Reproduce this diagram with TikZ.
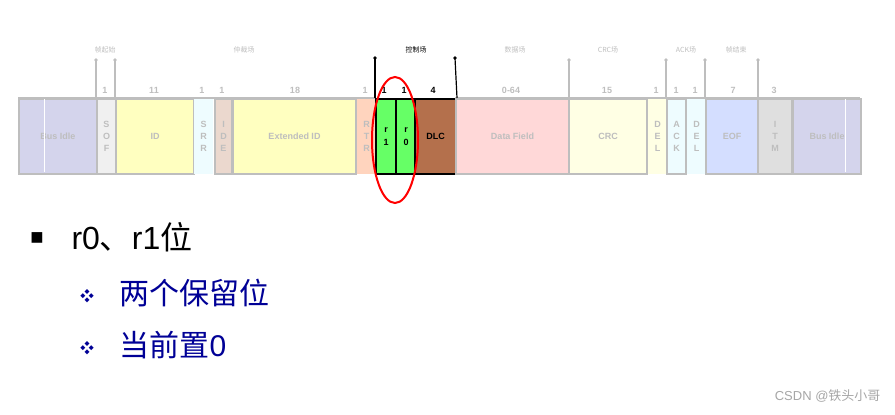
\documentclass[tikz,border=0pt]{standalone}
\usepackage{fontspec}
\setmainfont{Liberation Sans}
\newfontfamily\cjk{Noto Sans CJK SC}
\usetikzlibrary{positioning, shapes.geometric}
\definecolor{faint}{RGB}{190,190,190}
\definecolor{bidle}{RGB}{212,212,236}
\definecolor{yel}{RGB}{255,255,192}
\definecolor{pale}{RGB}{255,255,228}
\definecolor{ice}{RGB}{238,252,255}
\definecolor{rgreen}{RGB}{102,255,102}
\definecolor{dlc}{RGB}{180,112,76}
\definecolor{darkblue}{RGB}{0,0,150}
\tikzset{
  field/.style={rectangle, anchor=north west, minimum height=75pt, inner sep=0pt,
    draw=faint, line width=2pt, text=faint, font=\bfseries\small, align=center},
  ctrl/.style={field, draw=black, text=black},
  num/.style={font=\bfseries\small, text=faint, anchor=south},
  group/.style={font=\cjk\scriptsize, text=faint},
  tick/.style={faint, line width=1.2pt},
  dot/.style={circle, fill=faint, inner sep=1.3pt}
}
\begin{document}
\begin{tikzpicture}[x=1pt,y=-1pt]
  \useasboundingbox (0,0) rectangle (895,415);
  % frame fields
  \node (idle1) [field, fill=bidle, minimum width=78pt] at (18,98) {Bus Idle};
  \node (sof) [field, fill=gray!12, minimum width=19pt] at (96,98) {S\\[1pt]O\\[1pt]F};
  \node (id) [field, fill=yel, minimum width=78pt] at (115,98) {ID};
  \node (srr) [field, fill=ice, minimum width=19pt, draw=none] at (193,98) {S\\[1pt]R\\[1pt]R};
  \node (ide) [field, fill={rgb,255:red,235;green,216;blue,206}, minimum width=17pt] at (214,98) {I\\[1pt]D\\[1pt]E};
  \node (extid) [field, fill=yel, minimum width=123pt] at (232,98) {Extended ID};
  \node (rtr) [field, fill={rgb,255:red,255;green,212;blue,190}, minimum width=19pt, draw=none] at (356,98) {R\\[1pt]T\\[1pt]R};
  \node (rone) [ctrl, fill=rgreen, minimum width=20pt] at (375,98) {r\\[2pt]1};
  \node (rzero) [ctrl, fill=rgreen, minimum width=20pt] at (395,98) {r\\[2pt]0};
  \node (dlc) [ctrl, fill=dlc, minimum width=41pt] at (414,98) {DLC};
  \node (data) [field, fill={rgb,255:red,255;green,216;blue,216}, minimum width=113pt] at (455,98) {Data Field};
  \node (crc) [field, fill=pale, minimum width=78pt] at (568,98) {CRC};
  \node (del1) [field, fill=pale, minimum width=19pt, draw=none] at (647,98) {D\\[1pt]E\\[1pt]L};
  \node (ack) [field, fill=ice, minimum width=19pt] at (666,98) {A\\[1pt]C\\[1pt]K};
  \node (del2) [field, fill=ice, minimum width=19pt, draw=none] at (686,98) {D\\[1pt]E\\[1pt]L};
  \node (eof) [field, fill={rgb,255:red,212;green,222;blue,255}, minimum width=52pt] at (705,98) {EOF};
  \node (itm) [field, fill=gray!25, minimum width=34pt] at (757,98) {I\\[1pt]T\\[1pt]M};
  \node (idle2) [field, fill=bidle, minimum width=68pt] at (792,98) {Bus Idle};
  \draw[white, line width=1pt] (44,99) -- (44,172) (845,99) -- (845,172);
  \draw[faint, line width=2.5pt] (18,98) -- (375,98) (455,98) -- (860,98);
  % bit counts
  \foreach \n/\x in {1/105, 11/154, 1/202, 1/222, 18/295, 1/365, 15/607, 1/656, 1/676, 1/695, 7/733, 3/774}
    \node[num] at (\x,97) {\n};
  \node[num, text=black] at (384,97) {1};
  \node[num, text=black] at (404,97) {1};
  \node[num, text=black] at (433,97) {4};
  \node[num] at (511,97) {0-64};
  % field markers
  \foreach \name/\x in {ma/96, mb/115, mc/569, md/666, me/705, mf/758}{
    \coordinate (\name) at (\x,60);
    \draw[tick] (\name) -- (\x,98);
    \node[dot] at (\name) {};
  }
  \coordinate (mctrl) at (375,58);
  \coordinate (mdata) at (455,58);
  \draw[line width=1.2pt] (mctrl) -- (rone.north west);
  \draw[line width=1.2pt] (mdata) -- (dlc.north east);
  \node[dot, fill=black] at (mctrl) {};
  \node[dot, fill=black] at (mdata) {};
  \node[group] at (105,50) {帧起始};
  \node[group] at (244,50) {仲裁场};
  \node[group, text=black] at (416,50) {控制场};
  \node[group] at (515,50) {数据场};
  \node[group] at (608,50) {CRC场};
  \node[group] at (686,50) {ACK场};
  \node[group] at (736,50) {帧结束};
  % highlight
  \node (ring) [ellipse, draw=red, line width=2pt, minimum width=46pt, minimum height=126pt] at (395,140) {};
  % text
  \node (b1) at (37,239) {\fontsize{22pt}{22pt}\selectfont ■};
  \node (t1) [anchor=west] at (68,237) {\fontsize{32pt}{32pt}\selectfont r0{\cjk 、}r1{\cjk 位}};
  \node (b2) [text=darkblue] at (87,296) {\fontsize{14pt}{14pt}\selectfont\cjk ❖};
  \node (t2) [anchor=west, text=darkblue] at (116,293) {\fontsize{30pt}{30pt}\selectfont\cjk 两个保留位};
  \node (b3) [text=darkblue] at (87,348) {\fontsize{14pt}{14pt}\selectfont\cjk ❖};
  \node (t3) [anchor=west, text=darkblue] at (116,345) {\fontsize{30pt}{30pt}\selectfont{\cjk 当前置}0};
  \node (wm) [anchor=east, text=gray!70] at (884,396) {\fontsize{13pt}{13pt}\selectfont CSDN @{\cjk 铁头小哥}};
\end{tikzpicture}
\end{document}
